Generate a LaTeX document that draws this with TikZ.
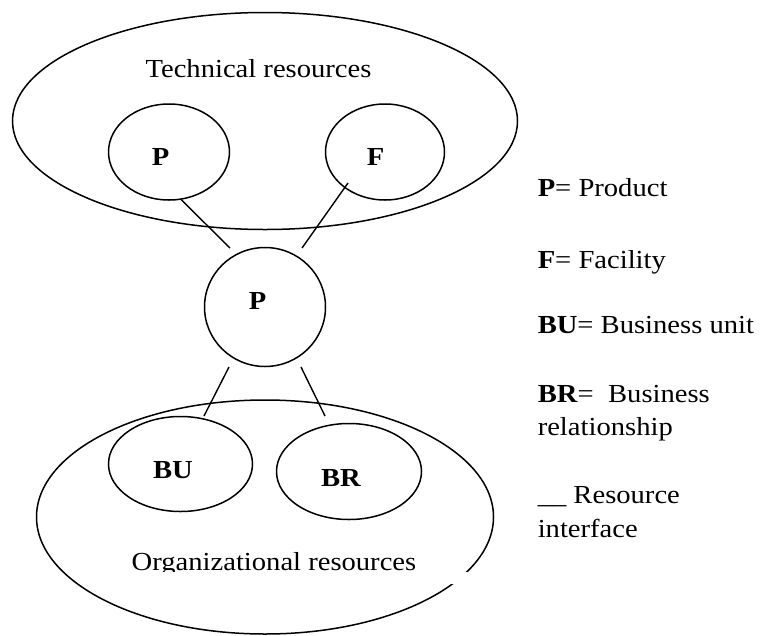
\documentclass[tikz,border=0pt]{standalone}
\usepackage{fontspec}
\setmainfont{Liberation Serif}[FakeStretch=1.1]
\usetikzlibrary{shapes.geometric}
\begin{document}
\begin{tikzpicture}[x=1pt,y=-1pt, line width=1.5pt,
  oval/.style={draw, ellipse, inner sep=0pt},
  lbl/.style={font=\fontsize{26}{33}\selectfont\bfseries, anchor=base, inner sep=0pt},
  grouptext/.style={font=\fontsize{26}{33}\selectfont, anchor=base, inner sep=0pt},
  txt/.style={font=\fontsize{26}{33}\selectfont, anchor=base west, inner sep=0pt},
  link/.style={line width=1.4pt}
]
\useasboundingbox (0,0) rectangle (765,635);
% groups
\node[oval, minimum width=505pt, minimum height=217pt] (tech) at (265,121) {};
\node[oval, minimum width=457pt, minimum height=234pt] (org) at (265,517) {};
\node[grouptext] (techlbl) at (258.5,77) {Technical resources};
\node[grouptext] (orglbl) at (274,570) {Organizational resources};
\fill[white] (100,571.5) rectangle (478,584);
% resource nodes
\node[oval, minimum width=121pt, minimum height=96pt] (p1) at (169,152) {};
\node[oval, minimum width=119pt, minimum height=96pt] (f) at (385,152) {};
\node[oval, minimum width=121pt, minimum height=119pt] (pm) at (265,307) {};
\node[oval, minimum width=144pt, minimum height=95pt] (bu) at (180.5,464) {};
\node[oval, minimum width=145pt, minimum height=96pt] (br) at (349,471.5) {};
\node[lbl] (p1l) at (160.5,165) {P};
\node[lbl] (fl) at (375.5,165) {F};
\node[lbl] (pml) at (257.5,309) {P};
\node[lbl] (bul) at (173,478) {BU};
\node[lbl] (brl) at (341,486) {BR};
% connector end points
\coordinate (a1) at (181,199.5);
\coordinate (a2) at (230,248);
\coordinate (b1) at (348,183);
\coordinate (b2) at (302,248);
\coordinate (c1) at (229,367);
\coordinate (c2) at (204,416);
\coordinate (d1) at (301,367);
\coordinate (d2) at (325,416);
\draw[link] (a1) -- (a2);
\draw[link] (b1) -- (b2);
\draw[link] (c1) -- (c2);
\draw[link] (d1) -- (d2);
% legend
\node[txt] (lg1) at (537,196) {\textbf{P}= Product};
\node[txt] (lg2) at (537,268) {\textbf{F}= Facility};
\node[txt] (lg3) at (537,333) {\textbf{BU}= Business unit};
\node[txt] (lg4) at (537,402) {\textbf{BR}=\ \ Business};
\node[txt] (lg5) at (537,435) {relationship};
\node[txt] (lg6) at (537,503) {\_\_ Resource};
\node[txt] (lg7) at (537,537) {interface};
\end{tikzpicture}
\end{document}
